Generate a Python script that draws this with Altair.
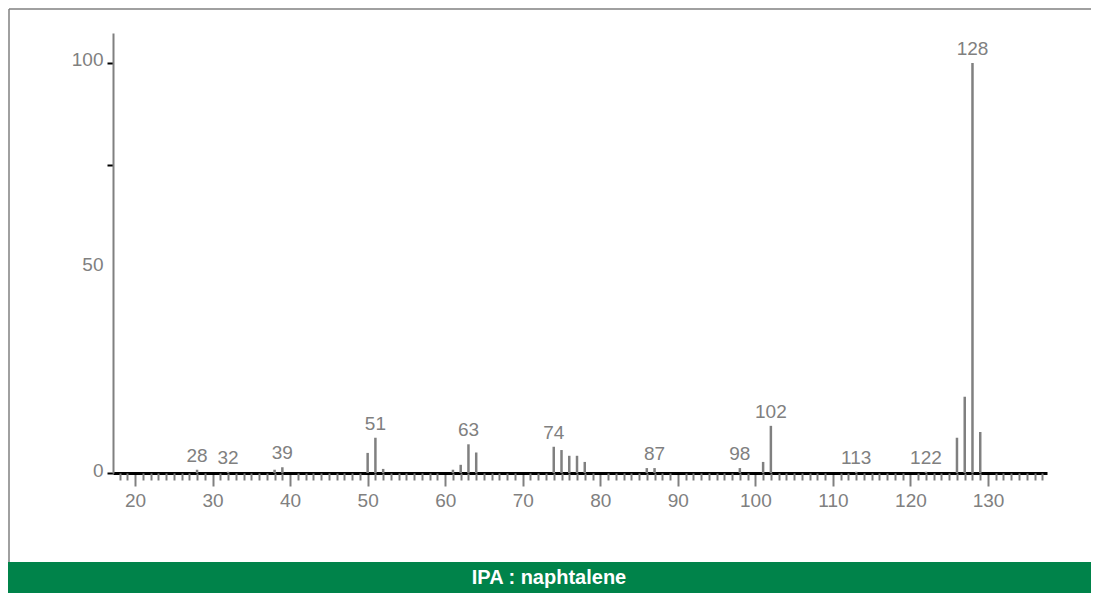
import altair as alt
import pandas as pd

# Mass spectrum of naphthalene (m/z, relative intensity %)
peak_mz = [28, 32, 38, 39, 50, 51, 52, 61, 62, 63, 64, 74, 75, 76, 77, 78,
           86, 87, 98, 101, 102, 113, 122, 126, 127, 128, 129]
peak_int = [0.8, 0.3, 0.8, 1.4, 4.9, 8.6, 1.0, 0.8, 2.0, 7.0, 5.0, 6.4, 5.6, 4.2, 4.2, 2.7,
            1.2, 1.2, 1.2, 2.7, 11.5, 0.3, 0.3, 8.6, 18.6, 100.0, 10.0]
label_mz = [28, 32, 39, 51, 63, 74, 87, 98, 102, 113, 122, 128]
x_major_ticks = [20, 30, 40, 50, 60, 70, 80, 90, 100, 110, 120, 130]
x_minor_ticks = [v for v in range(18, 138) if v % 10 != 0]
y_ticks = [0, 50, 75, 100]
banner = "IPA : naphtalene"

peaks = pd.DataFrame({"mz": peak_mz, "intensity": peak_int})
lookup = dict(zip(peak_mz, peak_int))
labels = pd.DataFrame({"mz": label_mz,
                       "intensity": [lookup[m] for m in label_mz],
                       "text": [str(m) for m in label_mz]})
minor = pd.DataFrame({"mz": x_minor_ticks})
one = pd.DataFrame({"a": [0]})

FONT = "Liberation Sans"
GRAY = "#808080"
W, H = 934, 440

xscale = alt.Scale(domain=[17.16, 137.61], nice=False, zero=False)
yscale = alt.Scale(domain=[0, 107.3], nice=False, zero=True)

yaxis = alt.Axis(values=y_ticks, labelExpr="datum.value == 75 ? '' : datum.label",
                 tickColor={"condition": {"test": "datum.value == 50", "value": "transparent"},
                            "value": "black"},
                 tickWidth=2, tickSize=6, domainColor=GRAY, domainWidth=2,
                 labelFontSize=19, labelColor=GRAY, labelFont=FONT, labelPadding=4,
                 labelOffset=-3, grid=False, title=None)

xaxis = alt.Axis(values=x_major_ticks, tickSize=13, tickColor=GRAY, tickWidth=2,
                 domainColor="black", domainWidth=3, labelFontSize=19, labelColor=GRAY,
                 labelFont=FONT, labelPadding=5, labelBaseline="top", grid=False,
                 title=None, orient="bottom", labelFlush=False)

xaxis_minor = alt.Axis(values=x_minor_ticks, tickSize=7, tickColor=GRAY, tickWidth=2,
                       domain=False, labels=False, grid=False, title=None, orient="bottom")

rules = alt.Chart(peaks).mark_rule(color=GRAY, strokeWidth=2.5).encode(
    x=alt.X("mz:Q", scale=xscale, axis=xaxis),
    y=alt.Y("intensity:Q", scale=yscale, axis=yaxis),
    y2=alt.datum(0),
)

minor_layer = alt.Chart(minor).mark_point(opacity=0).encode(
    x=alt.X("mz:Q", scale=xscale, axis=xaxis_minor),
    y=alt.value(0),
)

text_layer = alt.Chart(labels).mark_text(
    baseline="bottom", align="center", dy=-4, fontSize=19, font=FONT, color=GRAY
).encode(
    x=alt.X("mz:Q", scale=xscale, axis=None),
    y=alt.Y("intensity:Q", scale=yscale, axis=yaxis),
    text="text:N",
)

frame_top = alt.Chart(one).mark_rule(color=GRAY, strokeWidth=1.5).encode(
    x=alt.value(-104), x2=alt.value(980), y=alt.value(-24))
frame_left = alt.Chart(one).mark_rule(color=GRAY, strokeWidth=1.5).encode(
    x=alt.value(-104), y=alt.value(-24), y2=alt.value(530))
band = alt.Chart(one).mark_rect(color="#00834A").encode(
    x=alt.value(-105), x2=alt.value(980), y=alt.value(529), y2=alt.value(561))
band_text = alt.Chart(one).mark_text(
    text=banner, color="white", fontSize=20, fontWeight="bold",
    font="'Liberation Sans Narrow', 'Liberation Sans'", align="center", baseline="middle"
).encode(x=alt.value(436), y=alt.value(545))

chart = alt.layer(
    frame_top, frame_left, band, band_text, rules, minor_layer, text_layer
).resolve_axis(x="independent").properties(
    width=W, height=H,
    autosize=alt.AutoSizeParams(type="none"),
    padding={"left": 105, "top": 25, "right": 44, "bottom": 120},
    background="white",
).configure_view(stroke=None, strokeWidth=0)

chart.save("out.html", embed_options={"renderer": "svg", "actions": False})
